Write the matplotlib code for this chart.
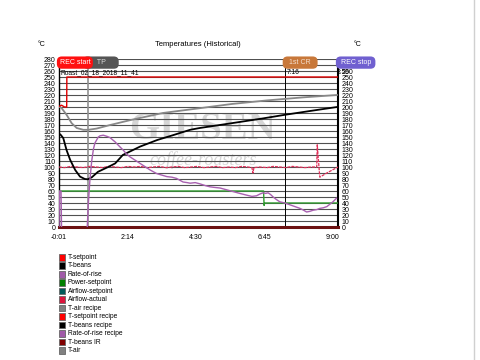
import numpy as np
import matplotlib
matplotlib.use("Agg")
import matplotlib.pyplot as plt
from matplotlib.patches import Rectangle
from matplotlib.lines import Line2D

plt.rcParams['font.family'] = ['Liberation Sans', 'DejaVu Sans']

# time in seconds
bean_t = [-1, 3, 7.5, 14, 21, 31, 40.5, 50, 56, 64, 76, 96, 110, 125, 159, 193, 224, 258, 277, 340, 402, 445, 500, 548]
bean_v = [156, 153, 148, 128, 112, 95, 84, 80, 79.5, 83, 92, 100, 106, 120, 134, 145, 153, 162, 165, 173, 181, 187, 194, 200]

air_t = [-1, 1, 4.3, 14, 24, 34, 47, 57, 73, 100, 139, 204, 277, 340, 410, 480, 548]
air_v = [200, 200, 198, 187, 173, 165, 162, 162, 164, 170, 178, 190, 198, 205, 211, 216, 220]

ror_t = [-1, 0, 3, 4.3, 53.7, 57, 60, 63.6, 67, 70, 76.6, 80, 86.5, 94, 99.7, 109.6, 113, 120, 126, 132,
         139, 150, 159, 170, 179, 192, 200, 212, 222, 231, 244, 252, 258, 268, 277, 288, 297, 306, 317, 330,
         343, 356, 370, 380, 389, 396, 402, 407, 412, 417, 422, 428, 435, 445, 455, 465, 475, 482, 488, 494,
         501, 508, 514, 521, 528, 534, 540, 547]
ror_v = [0, 60, 60, -20, -20, 40, 78, 110, 130, 140, 150, 152, 153, 151, 149, 142, 139, 133, 128, 122,
         117, 111, 106, 100, 95, 89, 87, 84, 83, 81, 75, 74, 73, 74, 72, 69, 67, 66, 65, 62,
         59, 56, 53, 51, 52, 55, 57, 56, 57, 54, 50, 46, 42, 40, 37, 34, 31, 28, 25, 26,
         28, 29, 31, 32, 34, 38, 42, 48]

power_t = [-1, 403, 404, 405, 550]
power_v = [60, 60, 36, 40, 40]

airflow_t = [-1, 10, 22, 35, 47, 60, 72, 85, 97, 110, 122, 135, 147, 160, 172, 185, 197, 210, 222, 235,
             247, 260, 272, 285, 297, 310, 322, 335, 347, 360, 372, 380, 382, 384, 395, 410, 422, 435, 447, 460,
             472, 485, 497, 505, 508, 509, 514, 530, 550]
airflow_v = [100, 99, 101, 100, 99, 101, 100, 99, 101, 100, 99, 101, 100, 101, 99, 100, 101, 99, 100, 101,
             99, 100, 101, 99, 100, 101, 99, 100, 99, 101, 100, 99, 90, 99, 100, 99, 101, 100, 99, 101,
             100, 99, 100, 100, 100, 137, 83, 91, 100]

setp_t = [-1, 4, 10, 14.2, 14.5, 550]
setp_v = [201, 203, 200, 200, 250, 250]

ir_t = [-1, 550]
ir_v = [0, 0]

events = ['REC start', 'TP', '1st CR', 'REC stop']
event_t = [-1, 56, 445, 550]

xtick_t = [-1, 134, 270, 405, 540]
xtick_lab = ['-0:01', '2:14', '4:30', '6:45', '9:00']

legend_names = ['T-setpoint', 'T-beans', 'Rate-of-rise', 'Power-setpoint', 'Airflow-setpoint',
                'Airflow-actual', 'T-air recipe', 'T-setpoint recipe', 'T-beans recipe',
                'Rate-of-rise recipe', 'T-beans IR', 'T-air']
legend_cols = ['#ff0000', '#000000', '#a05aa8', '#008000', '#005a5a', '#dc143c', '#808080',
               '#ff0000', '#000000', '#a05aa8', '#800000', '#808080']

fig = plt.figure(figsize=(4.8, 3.6), dpi=100)
ax = fig.add_axes([59/480, 1-227/360, 279/480, 168/360])

ax.set_xlim(-1, 550)
ax.set_ylim(0, 280)
for v in range(10, 290, 10):
    ax.axhline(v, color='#505050', lw=0.8, zorder=1)

# watermark
ax.text(283, 162, 'GIESEN', fontsize=28, fontweight='bold', family='Liberation Serif',
        color='#d6d6d6', ha='center', va='center', zorder=0.5)
ax.text(283, 111, 'coffee-roasters', fontsize=13, style='italic', family='Liberation Serif',
        color='#d6d6d6', ha='center', va='center', zorder=0.5)

ax.axvline(event_t[1], color='#909090', lw=1.2, zorder=2)
ax.axvline(event_t[2], color='#000000', lw=0.7, zorder=2)

ax.plot(ir_t, ir_v, color='#6b1010', lw=2.2, zorder=3, clip_on=False)
ax.plot(power_t, power_v, color='#2e9a2e', lw=1, zorder=3)
ax.plot(airflow_t, airflow_v, color='#e0305a', lw=0.9, ls=(0, (2.5, 0.8)), zorder=3)
ax.plot(air_t, air_v, color='#888888', lw=1.3, zorder=4)
ax.plot(setp_t, setp_v, color='#e00000', lw=1, zorder=4)
ax.plot(bean_t, bean_v, color='#000000', lw=1.3, zorder=5)
ax.plot(ror_t, ror_v, color='#a860b0', lw=1, zorder=5)

for s in ['top', 'bottom']:
    ax.spines[s].set_visible(False)
ax.spines['left'].set_linewidth(1)
ax.spines['right'].set_linewidth(1.5)

ax.set_yticks(range(0, 290, 10))
ax.tick_params(axis='y', length=0, labelsize=5, pad=2.5, right=True, labelright=True)
ax.set_xticks(xtick_t)
ax.set_xticklabels(xtick_lab)
ax.tick_params(axis='x', length=0, labelsize=5, pad=5)

# event markers
box_cols = ['#ff1010', '#555555', '#c8783a', '#7060d0']
txt_cols = ['white', '#dddddd', '#f4e0d0', 'white']
labels = ['REC start', '      TP     ', '  1st CR  ', ' REC stop ']
starts = [-1, 50, 445, 550]
zs = [9, 8, 8, 8]
for lab, t, bc, tc, z in zip(labels, starts, box_cols, txt_cols, zs):
    ax.text(t + 1, 274, lab, fontsize=5, color=tc, ha='left', va='center', zorder=z, clip_on=False,
            bbox=dict(boxstyle='round,pad=0.38,rounding_size=0.7', fc=bc, ec='none'))
ax.text(2, 257, 'Roast_02_18_2018_11_41', fontsize=4.8, ha='left', va='center', zorder=6)
ax.text(event_t[2] + 3, 258, '7:16', fontsize=4.8, ha='left', va='center', zorder=6)
ax.text(548, 258, '8:59', fontsize=4.8, ha='left', va='center', zorder=6, clip_on=False)

fig.text(198/480, 1-44/360, 'Temperatures (Historical)', fontsize=5.5, ha='center', va='center')
fig.text(42/480, 1-44/360, '°C', fontsize=5, ha='center', va='center')
fig.text(358/480, 1-44/360, '°C', fontsize=5, ha='center', va='center')

# legend
for i, (name, c) in enumerate(zip(legend_names, legend_cols)):
    yc = 257.3 + i * 8.47
    fig.add_artist(Rectangle((58.5/480, 1-(yc+3.3)/360), 6.5/480, 6.6/360,
                             transform=fig.transFigure, fc=c, ec='#666666', lw=0.6))
    fig.text(68/480, 1-yc/360, name, fontsize=4.8, ha='left', va='center')

fig.add_artist(Line2D([474/480, 474/480], [0, 1], transform=fig.transFigure, color='#d0d0d0', lw=1))

fig.savefig('out.png', dpi=100)
